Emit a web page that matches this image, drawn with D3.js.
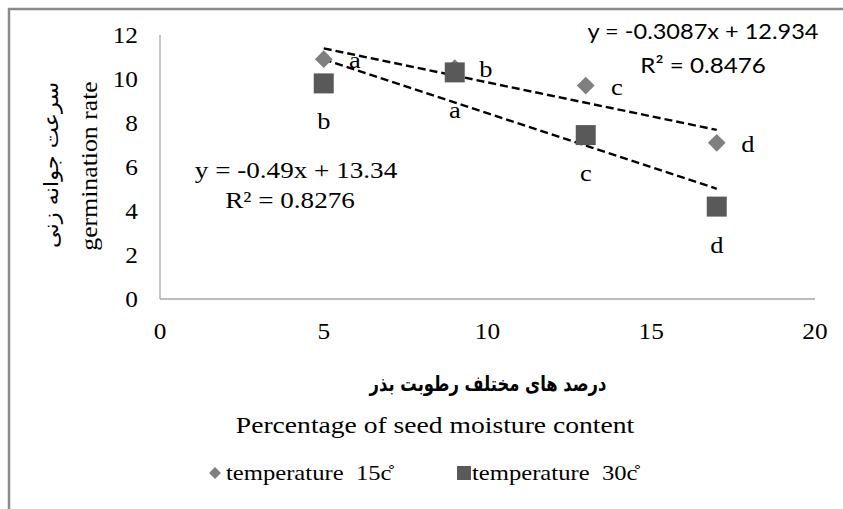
<!DOCTYPE html>
<html>
<head>
<meta charset="utf-8">
<script src="https://cdn.jsdelivr.net/npm/d3@7"></script>
<style>
  body { margin: 0; background: #fff; }
  svg { display: block; }
</style>
</head>
<body>
<svg id="chart"></svg>
<script>
// moisture content (%)
const moisture = [5, 9, 13, 17]
// germination rate, 15 and 30 degrees
const rate15 = [10.9, 10.5, 9.7, 7.1]
const rate30 = [9.8, 10.3, 7.45, 4.2]
// mean comparison letters
const letters15 = ['a', 'b', 'c', 'd']
const letters30 = ['b', 'a', 'c', 'd']
// trendline coefficients
const slope15 = -0.3087, intercept15 = 12.934
const slope30 = -0.49, intercept30 = 13.34
const xTicks = [0, 5, 10, 15, 20]
const yTicks = [0, 2, 4, 6, 8, 10, 12]

const width = 843, height = 509
const margin = {top: 35, right: 28, bottom: 210, left: 160}
const SERIF = '"Liberation Serif", "Times New Roman", Times, serif'
const SANS = 'Lato, "Open Sans", sans-serif'
const FA = '"DejaVu Sans", sans-serif'

const svg = d3.select('#chart')
    .attr('width', width)
    .attr('height', height)

// outer frame (right/bottom edges fall outside the picture)
svg.append('rect')
    .attr('x', 9).attr('y', 9)
    .attr('width', 860).attr('height', 520)
    .attr('fill', 'none')
    .attr('stroke', '#8a8a8a')
    .attr('stroke-width', 2.5)

const xScale = d3.scaleLinear().domain([0, 20]).range([margin.left, width - margin.right])
const yScale = d3.scaleLinear().domain([0, 12]).range([height - margin.bottom, margin.top])

const y0 = yScale(0)

// the source picture is a bit stretched sideways, so text gets a small x-scale
function label(parent, x, y, str, o) {
    o = Object.assign({size: 23, sx: 1.15, anchor: 'middle', family: SERIF, rot: 0}, o)
    const t = parent.append('text')
        .attr('transform', `translate(${x}, ${y}) rotate(${o.rot}) scale(${o.sx}, 1)`)
        .attr('text-anchor', o.anchor)
        .style('font-family', o.family)
        .style('font-size', o.size + 'px')
        .style('white-space', 'pre')
        .attr('fill', '#000')
        .text(str)
    if (o.bold) t.style('font-weight', 'bold')
    if (o.rtl) t.attr('direction', 'rtl')
    return t
}

// axes lines
svg.append('line')
    .attr('x1', xScale(0)).attr('x2', xScale(20))
    .attr('y1', y0).attr('y2', y0)
    .attr('stroke', '#a6a6a6').attr('stroke-width', 1.3)
svg.append('line')
    .attr('x1', xScale(0)).attr('x2', xScale(0))
    .attr('y1', yScale(12)).attr('y2', y0)
    .attr('stroke', '#a6a6a6').attr('stroke-width', 1.3)

// tick labels
xTicks.forEach(d => label(svg, xScale(d), y0 + 40, d, {sx: 1.1}))
yTicks.forEach(d => label(svg, 138, yScale(d) + 8, d, {sx: 1.1, anchor: 'end'}))

// axis titles
label(svg, 97, 166, 'germination rate', {rot: -90, sx: 1.12})
label(svg, 58, 165, 'سرعت جوانه زنی', {rot: -90, sx: 1.12, size: 20, family: FA, rtl: true})
label(svg, 488, 391, 'درصد های مختلف رطوبت بذر', {sx: 0.78, size: 21, family: FA, bold: true, rtl: true})
label(svg, 435, 433, 'Percentage of seed moisture content', {sx: 1.2})

// trendlines
const trend = [
    {m: slope15, b: intercept15},
    {m: slope30, b: intercept30}
]
svg.selectAll('.trend')
    .data(trend)
    .join('line')
    .attr('class', 'trend')
    .attr('x1', xScale(moisture[0]))
    .attr('x2', xScale(moisture[moisture.length - 1]))
    .attr('y1', d => yScale(d.m * moisture[0] + d.b))
    .attr('y2', d => yScale(d.m * moisture[moisture.length - 1] + d.b))
    .attr('stroke', '#000')
    .attr('stroke-width', 2.4)
    .attr('stroke-dasharray', '8,4')

const pts15 = moisture.map((x, i) => ({x: x, y: rate15[i], l: letters15[i]}))
const pts30 = moisture.map((x, i) => ({x: x, y: rate30[i], l: letters30[i]}))

// 15 degree diamonds
svg.selectAll('.dia')
    .data(pts15)
    .join('path')
    .attr('class', 'dia')
    .attr('d', d3.symbol(d3.symbolDiamond2, 200))
    .attr('transform', d => `translate(${xScale(d.x)}, ${yScale(d.y)})`)
    .attr('fill', '#7f7f7f')

// 30 degree squares
svg.selectAll('.sq')
    .data(pts30)
    .join('rect')
    .attr('class', 'sq')
    .attr('x', d => xScale(d.x) - 10)
    .attr('y', d => yScale(d.y) - 10)
    .attr('width', 20).attr('height', 20)
    .attr('fill', '#595959')

// letters
pts15.forEach(d => label(svg, xScale(d.x) + 31, yScale(d.y) + 9, d.l))
pts30.forEach(d => label(svg, xScale(d.x), yScale(d.y) + 46, d.l))

// equations
label(svg, 296, 178, 'y = -0.49x + 13.34', {sx: 1.18})
label(svg, 290, 208, 'R² = 0.8276', {sx: 1.18})
label(svg, 703, 39, 'y = -0.3087x + 12.934', {family: SANS, size: 22, sx: 1.07})
label(svg, 703, 73, 'R² = 0.8476', {family: SANS, size: 22, sx: 1.1})

// legend
const legend = svg.append('g').attr('transform', 'translate(0, 473)')
legend.append('path')
    .attr('d', d3.symbol(d3.symbolDiamond2, 90))
    .attr('transform', 'translate(215, 0)')
    .attr('fill', '#7f7f7f')
label(legend, 226, 7, 'temperature  15c\u030A', {anchor: 'start', size: 22, sx: 1.12})
legend.append('rect')
    .attr('x', 457).attr('y', -7)
    .attr('width', 14).attr('height', 14)
    .attr('fill', '#595959')
label(legend, 472, 7, 'temperature  30c\u030A', {anchor: 'start', size: 22, sx: 1.12})
</script>
</body>
</html>
